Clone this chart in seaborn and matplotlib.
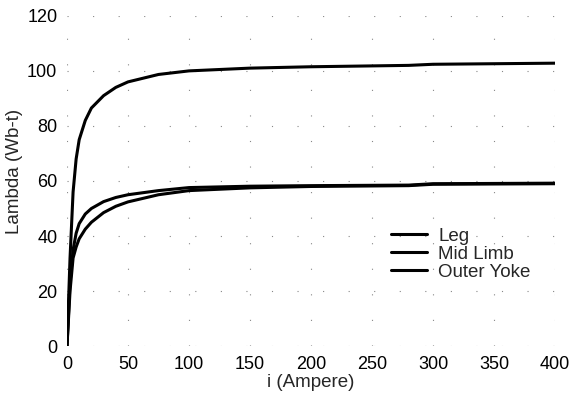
import matplotlib
matplotlib.use("Agg")
import matplotlib.pyplot as plt
import seaborn as sns
import pandas as pd

current = [0, 2.5, 5, 7.5, 10, 15, 20, 30, 40, 50, 75, 100, 150, 200, 280, 300, 400]
leg = [0, 32, 56, 68, 75, 82, 86.5, 91, 94, 96, 98.7, 100, 101, 101.5, 102, 102.4, 102.8]
mid_limb = [0, 23, 35, 41, 44.5, 48, 50, 52.5, 54, 55, 56.5, 57.6, 58.1, 58.3, 58.5, 59, 59.2]
outer_yoke = [0, 20, 32, 36, 39, 42.5, 45, 48.5, 50.8, 52.4, 55, 56.5, 57.5, 58, 58.3, 58.8, 59]
series_names = ["Leg", "Mid Limb", "Outer Yoke"]

sns.set_style("white")
plt.rcParams['font.family'] = ['Liberation Sans', 'DejaVu Sans']

frames = []
for name, vals in zip(series_names, [leg, mid_limb, outer_yoke]):
    frames.append(pd.DataFrame({"i": current, "lam": vals, "series": name}))
df = pd.concat(frames, ignore_index=True)

fig = plt.figure(figsize=(5.74, 3.96), dpi=100)
ax = fig.add_axes([0.1167, 0.126, 0.967 - 0.1167, 0.96 - 0.126])
sns.lineplot(data=df, x="i", y="lam", hue="series", hue_order=series_names,
             palette=["black", "black", "black"], linewidth=2.2, ax=ax,
             estimator=None, sort=False)

ax.set_xlim(0, 400)
ax.set_ylim(0, 120)
ax.set_xticks(range(0, 401, 50))
ax.set_yticks(range(0, 121, 20))
ax.tick_params(labelsize=13, length=2, colors="black", pad=5)
ax.grid(True, linestyle=(0, (1, 22)), color="#888888", linewidth=0.8)
for s in ax.spines.values():
    s.set_visible(False)
ax.set_xlabel("i (Ampere)", fontsize=13.5, labelpad=1)
ax.set_ylabel("Lambda (Wb-t)", fontsize=13.5)
ax.yaxis.set_label_coords(-0.09, 0.53)
leg_obj = ax.legend(loc="upper left", bbox_to_anchor=(0.63, 0.41), frameon=False,
                    fontsize=13.5, handlelength=1.9, labelspacing=0.05, handletextpad=0.6)
fig.savefig("out.png", dpi=100)
